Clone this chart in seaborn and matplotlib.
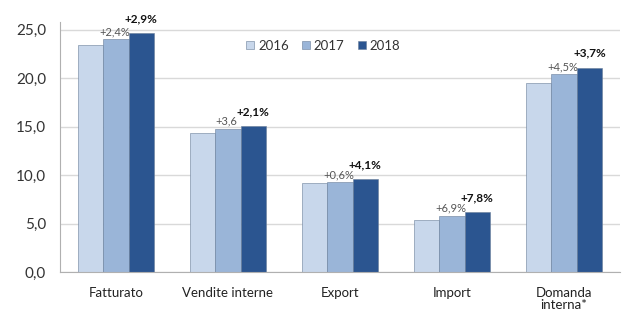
import pandas as pd
import numpy as np
import matplotlib.pyplot as plt
import seaborn as sns

# ========== Data ==========

categories = ['Fatturato', 'Vendite interne', 'Export', 'Import', 'Domanda\ninterna*']
years = ['2016', '2017', '2018']
v2016 = [23.4, 14.3, 9.2, 5.4, 19.5]
v2017 = [24.0, 14.8, 9.25, 5.8, 20.4]
v2018 = [24.7, 15.1, 9.6, 6.2, 21.1]
pct_2017 = ['+2,4%', '+3,6', '+0,6%', '+6,9%', '+4,5%']
pct_2018 = ['+2,9%', '+2,1%', '+4,1%', '+7,8%', '+3,7%']

df = pd.DataFrame({
    'cat': categories * 3,
    'year': [y for y in years for _ in categories],
    'val': v2016 + v2017 + v2018,
})

# ========== Plot ==========

sns.set_style('white')
plt.rcParams['font.family'] = ['Lato', 'DejaVu Sans']

fig = plt.figure(figsize=(6.34, 3.13), dpi=100)
ax = fig.add_axes([60 / 634, 41 / 313, 560 / 634, 250 / 313])

palette = ['#c8d7eb', '#9ab5d8', '#2b5590']
sns.barplot(data=df, x='cat', y='val', hue='year', palette=palette, saturation=1,
            width=0.68, gap=0.0, edgecolor='#6a7f9a', linewidth=0.4, ax=ax)

ax.set_ylim(0, 25.8)
ax.set_yticks(np.arange(0, 26, 5))
ax.set_yticklabels([f'{t:.1f}'.replace('.', ',') for t in np.arange(0, 26, 5)],
                   fontsize=11, color='#333333')
ax.tick_params(axis='x', labelsize=9.5, colors='#222222', length=0, pad=11)
for lbl in ax.get_xticklabels():
    lbl.set_linespacing(1.0)
ax.tick_params(axis='y', length=4, color='#aaaaaa', pad=6)
ax.yaxis.grid(True, color='#d9d9d9', linewidth=1)
ax.set_axisbelow(True)
ax.set_xlabel('')
ax.set_ylabel('')
for s in ['top', 'right']:
    ax.spines[s].set_visible(False)
ax.spines['left'].set_color('#b0b0b0')
ax.spines['bottom'].set_color('#b0b0b0')

# annotations on 2017 and 2018 bars
for bar, txt in zip(ax.containers[1], pct_2017):
    ax.text(bar.get_x() + bar.get_width() * 0.45, bar.get_height() + 0.2, txt,
            ha='center', va='bottom', fontsize=8, color='#555555')
for bar, txt in zip(ax.containers[2], pct_2018):
    ax.text(bar.get_x() + bar.get_width() * 0.5, bar.get_height() + 0.9, txt,
            ha='center', va='bottom', fontsize=8.5, fontweight='bold', color='#111111')

leg = ax.legend(loc='center', bbox_to_anchor=(0.47, 0.905), ncol=3, frameon=False,
                fontsize=9.5, handlelength=0.6, handleheight=0.6, handletextpad=0.3,
                columnspacing=1.0)
for t in leg.get_texts():
    t.set_color('#333333')

fig.savefig('out.png', dpi=100, facecolor='white')
